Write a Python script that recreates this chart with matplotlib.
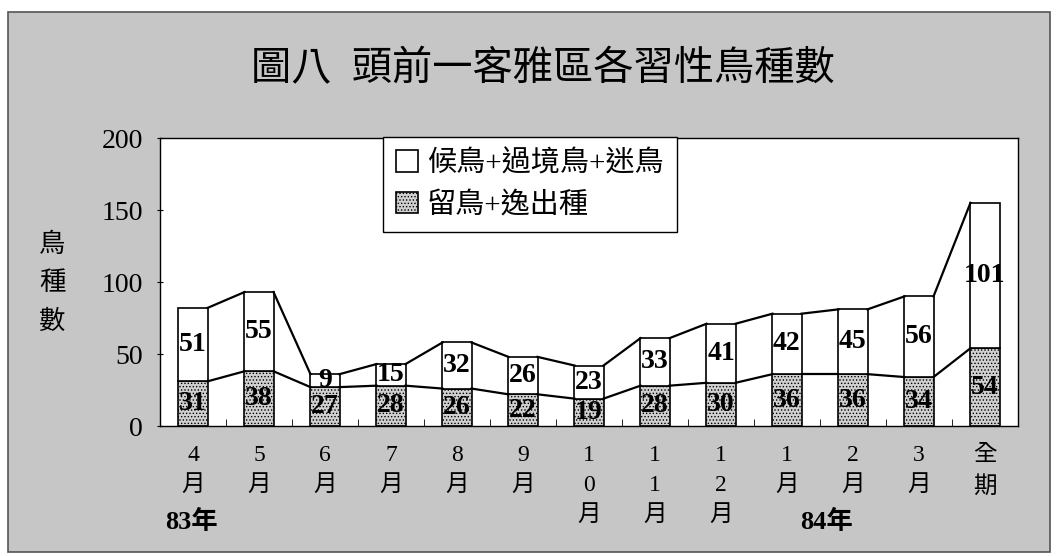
import matplotlib.pyplot as plt
from matplotlib.patches import Rectangle
import numpy as np

plt.rcParams['font.family'] = ['Liberation Serif', 'Noto Sans CJK TC']
plt.rcParams['hatch.linewidth'] = 0.6

# 資料
months = ['4\n月', '5\n月', '6\n月', '7\n月', '8\n月', '9\n月',
          '1\n0\n月', '1\n1\n月', '1\n2\n月', '1\n月', '2\n月', '3\n月', '全\n期']
resident = [31, 38, 27, 28, 26, 22, 19, 28, 30, 36, 36, 34, 54]
migrant = [51, 55, 9, 15, 32, 26, 23, 33, 41, 42, 45, 56, 101]
name_migrant = '候鳥+過境鳥+迷鳥'
name_resident = '留鳥+逸出種'

fig = plt.figure(figsize=(10.56, 5.56), dpi=100)
fig.patch.set_facecolor('white')
# 外框 (灰色網點底)
fig.patches.append(Rectangle((8 / 1056, 4 / 556), 1042 / 1056, 540 / 556,
                             transform=fig.transFigure, facecolor='#c6c6c6',
                             edgecolor='#555555', linewidth=1.2, zorder=-5))

ax = fig.add_axes([160 / 1056, 130 / 556, 858 / 1056, 288 / 556])
x = np.arange(len(months))
w = 0.44
b1 = ax.bar(x, resident, w, color='#d0d0d0', hatch='.....', edgecolor='black',
            linewidth=1.2, label=name_resident)
b2 = ax.bar(x, migrant, w, bottom=resident, color='white', edgecolor='black',
            linewidth=1.2, label=name_migrant)

total = np.array(resident) + np.array(migrant)
# 數列線
for lvl in (np.array(resident), total):
    for i in range(len(x) - 1):
        ax.plot([x[i] + w / 2, x[i + 1] - w / 2], [lvl[i], lvl[i + 1]],
                color='black', lw=1.6, zorder=3)

ax.bar_label(b1, label_type='center', fontsize=20, fontweight='bold')
ax.bar_label(b2, label_type='center', fontsize=20, fontweight='bold')

ax.set_xlim(-0.5, len(months) - 0.5)
ax.set_ylim(0, 200)
ax.set_yticks([0, 50, 100, 150, 200])
ax.tick_params(axis='y', labelsize=20, length=5, direction='inout', pad=10)
ax.set_xticks(x)
ax.set_xticklabels(months, fontsize=17, linespacing=1.55, va='top')
ax.tick_params(axis='x', length=0, pad=14)
ax.set_xticks(x[:-1] + 0.5, minor=True)
ax.tick_params(axis='x', which='minor', length=5, direction='in')
for s in ax.spines.values():
    s.set_linewidth(1.0)

fig.text(52 / 1056, 1 - 283 / 556, '鳥\n種\n數', ha='center', va='center',
         fontsize=19, linespacing=1.75)

fig.text(543 / 1056, 1 - 70 / 556, '圖八  頭前一客雅區各習性鳥種數',
         ha='center', va='center', fontsize=29)
fig.text(165 / 1056, 1 - 522 / 556, '83年', ha='left', va='center',
         fontsize=19, fontweight='bold')
fig.text(800 / 1056, 1 - 522 / 556, '84年', ha='left', va='center',
         fontsize=19, fontweight='bold')

leg = ax.legend(handles=[b2, b1], loc='upper left',
                bbox_to_anchor=(223 / 858, 1.004), borderaxespad=0,
                fontsize=21, frameon=True,
                fancybox=False, edgecolor='black', framealpha=1,
                handlelength=0.75, handleheight=0.75, handletextpad=0.3,
                borderpad=0.45, labelspacing=0.5)
leg.get_frame().set_linewidth(1.0)

fig.savefig('out.png', dpi=100)
